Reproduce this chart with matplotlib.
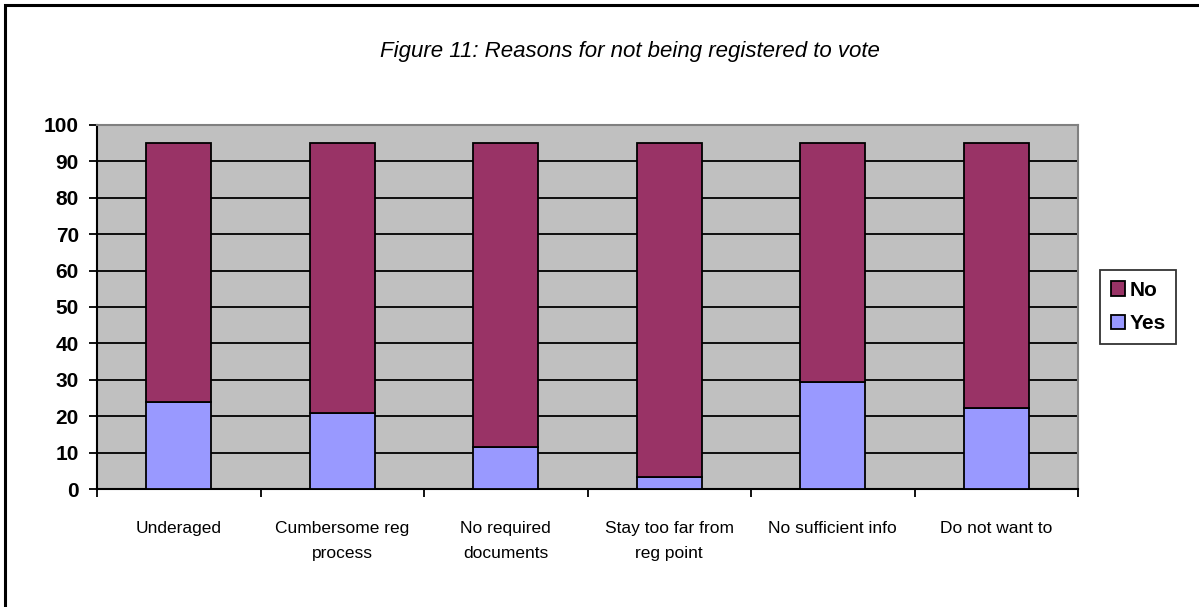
import numpy as np
import matplotlib.pyplot as plt
from matplotlib.patches import Rectangle

categories = ["Underaged", "Cumbersome reg\nprocess", "No required\ndocuments",
              "Stay too far from\nreg point", "No sufficient info", "Do not want to"]
yes = [24.0, 21.0, 11.7, 3.3, 29.4, 22.2]
no = [71.0, 74.0, 83.3, 91.7, 65.6, 72.8]
yticks = list(range(0, 101, 10))

plt.rcParams['font.family'] = ['Liberation Sans', 'DejaVu Sans']

fig = plt.figure(figsize=(11.99, 6.07), dpi=100)
ax = fig.add_axes([97/1199, 1 - 489.3/607, (1078 - 97)/1199, (489.3 - 124.7)/607])
ax.set_facecolor('#C0C0C0')

x = np.arange(len(categories))
ax.bar(x, yes, width=0.4, color='#9999FF', edgecolor='black', linewidth=1.3, label='Yes', zorder=3)
ax.bar(x, no, width=0.4, bottom=yes, color='#993366', edgecolor='black', linewidth=1.3, label='No', zorder=3)

ax.set_xlim(-0.5, len(categories) - 0.5)
ax.set_ylim(0, 100)
ax.set_yticks(yticks)
ax.set_yticklabels([str(t) for t in yticks], fontsize=15, fontweight='bold')
ax.yaxis.grid(True, color='black', linewidth=1.3, zorder=1)
ax.set_axisbelow(True)

# category boundary ticks, labels centred under bars
ax.set_xticks(np.arange(len(categories) + 1) - 0.5)
ax.set_xticklabels([])
ax.set_xticks(x, minor=True)
ax.set_xticklabels(categories, minor=True, fontsize=12.5, linespacing=1.85)
ax.tick_params(axis='x', which='minor', length=0, pad=23)
ax.tick_params(axis='x', which='major', length=6, width=1.3, direction='out')
ax.tick_params(axis='y', length=6, width=1.3, direction='out', pad=7)

for side in ['left', 'bottom']:
    ax.spines[side].set_color('black')
    ax.spines[side].set_linewidth(1.5)
for side in ['top', 'right']:
    ax.spines[side].set_color('#808080')
    ax.spines[side].set_linewidth(1.5)

handles, labels = ax.get_legend_handles_labels()
leg = fig.legend(handles[::-1], labels[::-1], loc='center', bbox_to_anchor=(1138/1199, 1 - 307/607),
                 prop={'weight': 'bold', 'size': 15}, frameon=True, fancybox=False,
                 edgecolor='black', handlelength=0.7, handleheight=0.7, handletextpad=0.2,
                 borderpad=0.5, labelspacing=0.7, borderaxespad=0)
leg.get_frame().set_linewidth(1.3)

fig.text(630/1199, 1 - 52/607, "Figure 11: Reasons for not being registered to vote",
         ha='center', va='center', fontsize=16, style='italic')

# outer frame (top and left edges visible)
fig.patches.append(Rectangle((5/1199, -0.1), 1.2, 1 - 5/607 + 0.1, transform=fig.transFigure,
                             fill=False, edgecolor='black', linewidth=2.2))

fig.savefig('out.png', dpi=100)
